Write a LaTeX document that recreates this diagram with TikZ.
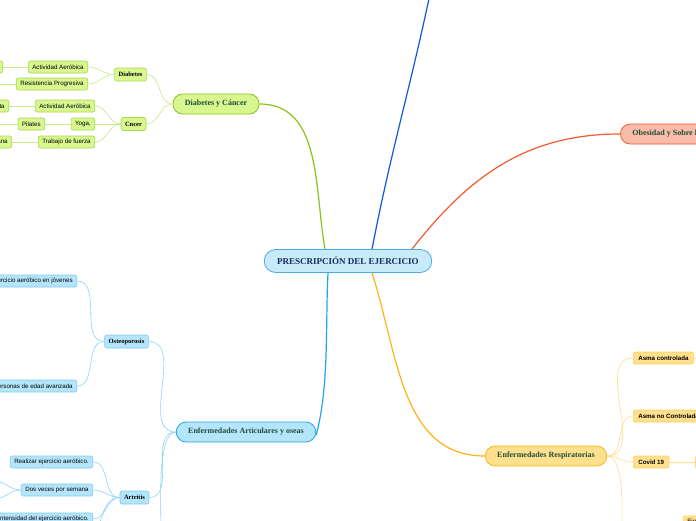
\documentclass[tikz,border=0pt]{standalone}
\usepackage{fontspec}
\setmainfont{Liberation Serif}
\setsansfont{Liberation Sans}
\usetikzlibrary{positioning}
\definecolor{RootFill}{HTML}{C8EBFA}
\definecolor{RootLine}{HTML}{4FA8DF}
\definecolor{RootText}{HTML}{1B2A5E}
\definecolor{TopicText}{HTML}{1F4C3A}
\definecolor{GreenMain}{HTML}{8CC21A}
\definecolor{GreenSoft}{HTML}{C9E98F}
\definecolor{GreenFill}{HTML}{D8F78F}
\definecolor{GreenLine}{HTML}{A9D84C}
\definecolor{SkyMain}{HTML}{1EA7E8}
\definecolor{SkySoft}{HTML}{8AD4F6}
\definecolor{SkyFill}{HTML}{B5E5FB}
\definecolor{SkyLine}{HTML}{7DCCF2}
\definecolor{GoldMain}{HTML}{FDB515}
\definecolor{GoldSoft}{HTML}{FFDC8C}
\definecolor{GoldFill}{HTML}{FFE08E}
\definecolor{GoldLine}{HTML}{FFCF5E}
\definecolor{RedMain}{HTML}{F25A2F}
\definecolor{RedFill}{HTML}{FABBA8}
\definecolor{NavyMain}{HTML}{0A5CD6}

\begin{document}
\begin{tikzpicture}[x=1pt,y=-1pt,every node/.style={align=center,inner ysep=0pt},
  rootbox/.style={draw=RootLine,fill=RootFill,rounded corners=11.5pt,line width=.8pt,minimum height=23pt,inner xsep=13pt,font=\fontsize{9}{10}\selectfont\bfseries,text=RootText},
  topicbox/.style={rounded corners=10pt,line width=.8pt,minimum height=20pt,inner xsep=12pt,font=\fontsize{8}{9}\selectfont\bfseries,text=TopicText},
  subbox/.style={rounded corners=2pt,line width=.6pt,minimum height=13pt,inner xsep=4pt,font=\fontsize{6.5}{7}\selectfont\bfseries},
  subsans/.style={rounded corners=2pt,line width=.6pt,minimum height=12pt,inner xsep=5pt,font=\sffamily\fontsize{6.2}{7}\selectfont\bfseries},
  leafbox/.style={rounded corners=2pt,line width=.6pt,minimum height=12pt,inner xsep=4pt,font=\sffamily\fontsize{6.2}{7}\selectfont},
  green/.style={draw=GreenLine,fill=GreenFill},
  sky/.style={draw=SkyLine,fill=SkyFill},
  gold/.style={draw=GoldLine,fill=GoldFill},
  link/.style={line width=.6pt}]
  \useasboundingbox (0,0) rectangle (696,520);
  \fill[white] (0,0) rectangle (696,520);
  \clip (0,0) rectangle (696,520);

  % centre and main topics
  \node[rootbox] (pres) at (348,261) {PRESCRIPCIÓN DEL EJERCICIO};
  \node[topicbox,draw=GreenMain,fill=GreenFill] (dyc) at (216,104) {Diabetes y Cáncer};
  \node[topicbox,draw=SkyMain,fill=SkyFill] (art) at (246,432) {Enfermedades Articulares y oseas};
  \node[topicbox,draw=GoldMain,fill=GoldFill] (resp) at (546,456) {Enfermedades Respiratorias};
  \node[topicbox,draw=RedMain,fill=RedFill,anchor=west] (obes) at (620,134) {Obesidad y Sobre Peso};
  \coordinate (top) at (430,-6);

  \draw[GreenMain,line width=1.2pt] ([xshift=-23pt]pres.north) to[out=100,in=0] (dyc.east);
  \draw[NavyMain,line width=1.2pt] ([xshift=24pt]pres.north) to[out=79,in=-102] (top);
  \draw[RedMain,line width=1.2pt] ([xshift=64pt]pres.north) to[out=52,in=180] (obes.west);
  \draw[SkyMain,line width=1.2pt] ([xshift=-20pt]pres.south) to[out=-93,in=75,looseness=.8] ([yshift=-3pt]art.east);
  \draw[GoldMain,line width=1.2pt] ([xshift=24pt]pres.south) to[out=-72,in=180] (resp.west);

  % Diabetes y Cancer
  \node[subbox,green] (diab) at (130.5,74.5) {Diabetes};
  \node[subbox,green] (cncer) at (133.5,124) {Cncer};
  \node[leafbox,green,anchor=east] (aero1) at (88,67) {Actividad Aeróbica};
  \node[leafbox,green,anchor=east] (resis) at (88,84) {Resistencia Progresiva};
  \node[leafbox,green,anchor=east] (walk1) at (3,67) {Caminar};
  \node[leafbox,green,anchor=east] (aero2) at (95,106) {Actividad Aeróbica};
  \node[leafbox,green,anchor=east] (yoga) at (95,124) {Yoga,};
  \node[leafbox,green,anchor=east] (pila) at (45,124) {Pilates};
  \node[leafbox,green,anchor=east] (fuer) at (95,142) {Trabajo de fuerza};
  \node[leafbox,green,anchor=east] (walk2) at (9,106) {Caminata};
  \node[leafbox,green,anchor=east] (sema) at (12,142) {2 veces por semana};
  \coordinate (resisend) at (-6,84);
  \coordinate (pilaend) at (-6,124);

  \begin{scope}[GreenSoft,link]
    \draw (dyc.west) to[out=180,in=0] (diab.east);
    \draw (dyc.west) to[out=180,in=0] (cncer.east);
    \draw (diab.west) to[out=180,in=0] (aero1.east);
    \draw (diab.west) to[out=180,in=0] (resis.east);
    \draw (aero1.west) -- (walk1.east);
    \draw (resis.west) -- (resisend);
    \draw (cncer.west) to[out=180,in=0] (aero2.east);
    \draw (cncer.west) -- (yoga.east);
    \draw (cncer.west) to[out=180,in=0] (fuer.east);
    \draw (aero2.west) -- (walk2.east);
    \draw (yoga.west) -- (pila.east);
    \draw (pila.west) -- (pilaend);
    \draw (fuer.west) -- (sema.east);
  \end{scope}

  % Enfermedades articulares
  \node[subbox,sky] (osteo) at (126.5,341.5) {Osteoporosis};
  \node[subbox,sky] (artr) at (134.5,497.5) {Artritis};
  \node[leafbox,sky,anchor=east] (joven) at (77,281) {Ejercicio aeróbico en jóvenes};
  \node[leafbox,sky,anchor=east] (mayor) at (77,386) {Personas de edad avanzada};
  \node[leafbox,sky,anchor=east] (real) at (93,462) {Realizar ejercicio aeróbico.};
  \node[leafbox,sky,anchor=east] (dos) at (93,490) {Dos veces por semana};
  \node[leafbox,sky,anchor=east] (inte) at (93,519) {Intensidad del ejercicio aeróbico.};
  \coordinate (artdown) at (161,528);
  \coordinate (artrdown) at (98,528);
  \coordinate (dosup) at (-6,481);
  \coordinate (dosdown) at (-6,499);

  \begin{scope}[SkySoft,link]
    \draw (art.west) to[out=180,in=0] (osteo.east);
    \draw (art.west) to[out=180,in=0] (artr.east);
    \draw (art.west) to[out=180,in=90,looseness=.5] (artdown);
    \draw (osteo.west) to[out=180,in=0] (joven.east);
    \draw (osteo.west) to[out=180,in=0] (mayor.east);
    \draw (artr.west) to[out=180,in=0] (real.east);
    \draw (artr.west) to[out=180,in=0] (dos.east);
    \draw (artr.west) to[out=180,in=0] (inte.east);
    \draw (artr.west) to[out=180,in=70] (artrdown);
    \draw (dos.west) to[out=180,in=0] (dosup);
    \draw (dos.west) to[out=180,in=0] (dosdown);
  \end{scope}

  % Enfermedades respiratorias
  \node[subsans,gold,anchor=west] (asma1) at (633,358) {Asma controlada};
  \node[subsans,gold,anchor=west] (asma2) at (633,416) {Asma no Controlada};
  \node[subsans,gold,anchor=west] (covid) at (633,462) {Covid 19};
  \node[leafbox,gold,anchor=west] (covidsub) at (695,462) {Ejercicio};
  \node[leafbox,gold,anchor=north west] (lowbox) at (683,515.5) {Ejercicio};
  \coordinate (asmaend) at (702,358);
  \coordinate (respdown) at (622,528);

  \begin{scope}[GoldSoft,link]
    \draw (resp.east) to[out=0,in=180] (asma1.west);
    \draw (resp.east) to[out=0,in=180] (asma2.west);
    \draw (resp.east) to[out=0,in=180] (covid.west);
    \draw (resp.east) to[out=0,in=90,looseness=.6] (respdown);
    \draw (asma1.east) -- (asmaend);
    \draw (covid.east) -- (covidsub.west);
  \end{scope}
\end{tikzpicture}
\end{document}
